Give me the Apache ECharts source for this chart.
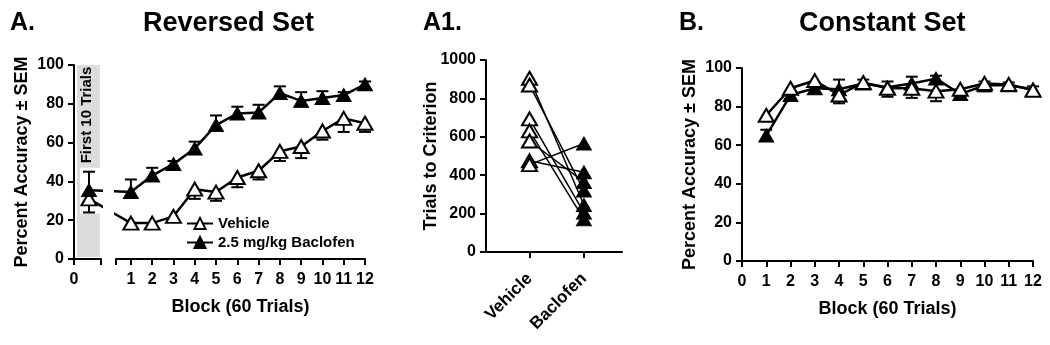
<!DOCTYPE html>
<html><head><meta charset="utf-8">
<script src="https://cdn.jsdelivr.net/npm/echarts@6/dist/echarts.min.js"></script>
<style>html,body{margin:0;padding:0;background:#fff}#c{width:1050px;height:345px}</style>
</head><body><div id="c"></div>
<script>
// ---------- data ----------
const blocks = [1,2,3,4,5,6,7,8,9,10,11,12];
const first10Label = 'First 10 Trials';
const first10X = 0.5;
const first10Vehicle = 31, first10VehicleSem = 7;
const first10Baclofen = 35.5, first10BaclofenSem = 9.5;
const revVehicle     = [18.5,18.5,22,36,34.5,42,45.5,55.5,58,66,72.5,70];
const revVehicleSem  = [2.5,2,1.5,5,4.5,5,4.5,5,6,4.5,7,4.5];
const revBaclofen    = [34.5,43,49,57,69,75,75.5,85.5,81.5,83,84.5,90];
const revBaclofenSem = [6.5,4,1.5,3.5,5,3.5,4,3.5,4.5,3.5,1.5,1.5];
const critCategories = ['Vehicle','Baclofen'];
const critVehicle  = [905,870,693,631,578,475,455];
const critBaclofen = [245,320,205,170,365,415,565];
const constVehicle     = [75.5,89.5,93.5,86,92.5,89.5,89.5,88,89,92,91.5,88.5];
const constVehicleSem  = [3,1.5,1.5,4.3,1.5,4.4,5,5.2,2,4,2,1.5];
const constBaclofen    = [65,86,89.5,89,92,90,92,94.5,86.5,91,91,89];
const constBaclofenSem = [3,2,1.5,5,2,3,3.5,1.5,1.5,2,1.5,1.5];
const nameVeh = 'Vehicle', nameBac = '2.5 mg/kg Baclofen';

// ---------- layout ----------
const FONT = "'Liberation Sans', Arial, sans-serif";
const G0 = {left:74, top:65, width:27, height:194, min:0, max:0.9};
const G1 = {left:116, top:65, width:249, height:194, min:0.3, max:12};
const G2 = {left:486, top:60, width:136, height:192, min:0.2, max:2.7};
const G3 = {left:742, top:68, width:291, height:193, min:0, max:12};
const toPx = (g,v)=> g.left + (v-g.min)/(g.max-g.min)*g.width;
const fromPx = (g,p)=> g.min + (p-g.left)/g.width*(g.max-g.min);
const b1InG0 = fromPx(G0, toPx(G1, blocks[0]));
const f10InG1 = fromPx(G1, toPx(G0, first10X));

const axLine = {show:true, lineStyle:{color:'#000', width:2}};
const axTick = {show:true, length:6, lineStyle:{color:'#000', width:2}};
const axLabel = {color:'#000', fontWeight:'bold', fontSize:16, fontFamily:FONT};
const nameStyle = {color:'#000', fontWeight:'bold', fontSize:18, fontFamily:FONT};

function errRender(params, api){
  const x=api.value(0), y=api.value(1), s=api.value(2), d=api.value(3);
  const p0=api.coord([x,y]), p1=api.coord([x,y+d*s]);
  const hw=6;
  return {type:'group', children:[
    {type:'line', shape:{x1:p0[0],y1:p0[1],x2:p1[0],y2:p1[1]}, style:{stroke:'#000', lineWidth:2}},
    {type:'line', shape:{x1:p1[0]-hw,y1:p1[1],x2:p1[0]+hw,y2:p1[1]}, style:{stroke:'#000', lineWidth:2}}
  ]};
}
function errSeries(xi, yi, data){
  return {type:'custom', xAxisIndex:xi, yAxisIndex:yi, renderItem:errRender, encode:{x:0,y:1}, data:data, z:1, silent:true, clip:false};
}
const vehStyle = {symbol:'triangle', symbolSize:[15,13], itemStyle:{color:'#fff', borderColor:'#000', borderWidth:2}, lineStyle:{color:'#000', width:2.5}};
const bacStyle = {symbol:'triangle', symbolSize:[15,13], itemStyle:{color:'#000', borderColor:'#000', borderWidth:1}, lineStyle:{color:'#000', width:2.5}};
function lineSeries(name, st, xi, yi, data, extra){
  return Object.assign({type:'line', name:name, xAxisIndex:xi, yAxisIndex:yi, data:data, z:3, clip:true, silent:true, animation:false,
    symbol:st.symbol, symbolSize:st.symbolSize, itemStyle:st.itemStyle, lineStyle:st.lineStyle}, extra||{});
}

const series = [];
// Panel A – first 10 trials segment (grid 0)
series.push(lineSeries(nameVeh, vehStyle, 0, 0,
  [[first10X, first10Vehicle], {value:[b1InG0, revVehicle[0]], symbol:'none'}],
  {markArea:{silent:true, data:[
    [{xAxis:0.1, yAxis:1, itemStyle:{color:'#dcdcdc'}}, {xAxis:0.867, yAxis:100}],
    [{xAxis:0.2, yAxis:23.5, itemStyle:{color:'#ffffff'}}, {xAxis:0.9, yAxis:47}]
  ]}}));
series.push(lineSeries(nameBac, bacStyle, 0, 0,
  [[first10X, first10Baclofen], {value:[b1InG0, revBaclofen[0]], symbol:'none'}]));
series.push(errSeries(0,0,[[first10X, first10Vehicle, first10VehicleSem, -1],[first10X, first10Baclofen, first10BaclofenSem, 1]]));
// Panel A – blocks (grid 1)
series.push(lineSeries(nameVeh, vehStyle, 1, 1,
  [{value:[f10InG1, first10Vehicle], symbol:'none'}].concat(blocks.map((b,i)=>[b, revVehicle[i]]))));
series.push(lineSeries(nameBac, bacStyle, 1, 1,
  [{value:[f10InG1, first10Baclofen], symbol:'none'}].concat(blocks.map((b,i)=>[b, revBaclofen[i]]))));
series.push(errSeries(1,1, blocks.map((b,i)=>[b, revVehicle[i], revVehicleSem[i], -1])));
series.push(errSeries(1,1, blocks.map((b,i)=>[b, revBaclofen[i], revBaclofenSem[i], 1])));
// Panel A1 – trials to criterion (grid 2)
critVehicle.forEach((v,i)=>{
  series.push({type:'line', xAxisIndex:2, yAxisIndex:2, data:[[1,v],[2,critBaclofen[i]]], symbol:'none',
    lineStyle:{color:'#000', width:1.5}, z:2, silent:true, animation:false});
});
series.push({type:'scatter', xAxisIndex:2, yAxisIndex:2, data:critBaclofen.map(v=>[2,v]), symbol:'triangle', symbolSize:[15,13],
  itemStyle:{color:'#000', borderColor:'#000', borderWidth:1, opacity:1}, z:3, silent:true, animation:false});
series.push({type:'scatter', xAxisIndex:2, yAxisIndex:2, data:critVehicle.map(v=>[1,v]), symbol:'triangle', symbolSize:[15,13],
  itemStyle:{color:'#fff', borderColor:'#000', borderWidth:2, opacity:1}, z:3, silent:true, animation:false});
// Panel B – constant set (grid 3)
series.push(errSeries(3,3, blocks.map((b,i)=>[b, constVehicle[i], constVehicleSem[i], -1])));
series.push(errSeries(3,3, blocks.map((b,i)=>[b, constBaclofen[i], constBaclofenSem[i], 1])));
series.push(lineSeries(nameBac, bacStyle, 3, 3, blocks.map((b,i)=>[b, constBaclofen[i]])));
series.push(lineSeries(nameVeh, vehStyle, 3, 3, blocks.map((b,i)=>[b, constVehicle[i]]), {z:4}));

function grid(g){ return {left:g.left, top:g.top, width:g.width, height:g.height, outerBoundsMode:'none', containLabel:false}; }
function pctY(gi, show, name){
  return {type:'value', gridIndex:gi, min:0, max:100, interval:20, show:show,
    axisLine:axLine, axisTick:axTick, axisLabel:Object.assign({margin:10}, axLabel), splitLine:{show:false},
    name:name, nameLocation:'middle', nameGap:43, nameTextStyle:nameStyle};
}
const titleStyle = (s)=>({fontSize:s, fontWeight:'bold', color:'#000', fontFamily:FONT});

const option = {
  animation:false,
  backgroundColor:'#fff',
  textStyle:{fontFamily:FONT},
  title:[
    {text:'A.', left:10, top:11, padding:0, textStyle:titleStyle(25)},
    {text:'Reversed Set', left:143, top:10, padding:0, textStyle:titleStyle(27)},
    {text:'A1.', left:423, top:11, padding:0, textStyle:titleStyle(25)},
    {text:'B.', left:679, top:11, padding:0, textStyle:titleStyle(25)},
    {text:'Constant Set', left:799, top:10, padding:0, textStyle:titleStyle(27)}
  ],
  legend:{orient:'vertical', left:186, top:216, itemWidth:26, itemHeight:14, itemGap:4, padding:0,
    data:[nameVeh, nameBac], textStyle:{color:'#000', fontWeight:'bold', fontSize:15, fontFamily:FONT}, selectedMode:false},
  grid:[grid(G0), grid(G1), grid(G2), grid(G3)],
  xAxis:[
    {type:'value', gridIndex:0, min:G0.min, max:G0.max, axisLine:axLine, splitLine:{show:false},
      axisTick:Object.assign({customValues:[G0.min, G0.max]}, axTick),
      axisLabel:Object.assign({customValues:[0], margin:13, formatter:v=>String(v)}, axLabel)},
    {type:'value', gridIndex:1, min:G1.min, max:G1.max, axisLine:axLine, splitLine:{show:false},
      axisTick:Object.assign({customValues:[G1.min].concat(blocks)}, axTick),
      axisLabel:Object.assign({customValues:blocks, margin:13, formatter:v=>String(v)}, axLabel),
      name:'Block (60 Trials)', nameLocation:'middle', nameGap:39, nameTextStyle:nameStyle},
    {type:'value', gridIndex:2, min:G2.min, max:G2.max, axisLine:axLine, splitLine:{show:false},
      axisTick:Object.assign({customValues:[1,2]}, axTick),
      axisLabel:Object.assign({customValues:[1,2], margin:24, rotate:45, formatter:v=>critCategories[Math.round(v)-1]}, axLabel, {fontSize:17})},
    {type:'value', gridIndex:3, min:G3.min, max:G3.max, interval:1, axisLine:axLine, splitLine:{show:false},
      axisTick:axTick, axisLabel:Object.assign({margin:13}, axLabel),
      name:'Block (60 Trials)', nameLocation:'middle', nameGap:39, nameTextStyle:nameStyle}
  ],
  yAxis:[
    pctY(0, true, 'Percent Accuracy ± SEM'),
    pctY(1, false, ''),
    {type:'value', gridIndex:2, min:0, max:1000, interval:200, axisLine:axLine, axisTick:axTick,
      axisLabel:Object.assign({margin:10, formatter:v=>String(v)}, axLabel), splitLine:{show:false},
      name:'Trials to Criterion', nameLocation:'middle', nameGap:46, nameMoveOverlap:false, nameTextStyle:nameStyle},
    pctY(3, true, 'Percent Accuracy ± SEM')
  ],
  series:series,
  graphic:[{type:'text', x:toPx(G0, first10X)-2.5, y:G0.top + 50, rotation:Math.PI/2, z:10,
    style:{text:first10Label, align:'center', verticalAlign:'middle', font:'bold 15px '+FONT, fill:'#000'}}]
};
const chart = echarts.init(document.getElementById('c'), null, {renderer:'canvas'});
chart.setOption(option);
</script></body></html>
